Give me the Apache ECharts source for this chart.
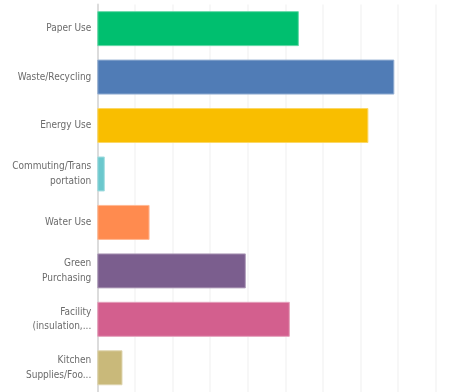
<!DOCTYPE html>
<html>
<head>
<meta charset="utf-8">
<script src="https://cdn.jsdelivr.net/npm/echarts@6/dist/echarts.min.js"></script>
<style>
  html, body { margin: 0; padding: 0; background: #fff; }
  #chart { width: 471px; height: 392px; }
</style>
</head>
<body>
<div id="chart"></div>
<script>
// categories top to bottom
const categories = [
  "Paper Use",
  "Waste/Recycling",
  "Energy Use",
  "Commuting/Trans\nportation",
  "Water Use",
  "Green\nPurchasing",
  "Facility\n(insulation,...",
  "Kitchen\nSupplies/Foo..."
];
// percent of respondents
const values = [53.6, 79.0, 72.1, 2.0, 13.9, 39.5, 51.2, 6.7];
const colors = ["#00bf6f", "#507cb6", "#f9be00", "#6bc8cd", "#ff8b4f", "#7b5e8e", "#d35f8e", "#c9b97a"];
const borders = ["#66d9a9", "#96b0d3", "#fbd866", "#a6dee1", "#ffb995", "#b09ebb", "#e59fbb", "#dfd5af"];

const chart = echarts.init(document.getElementById("chart"));
chart.setOption({
  animation: false,
  grid: {
    left: 97.3,
    right: 35.3,
    top: 4.4,
    bottom: -6,
    containLabel: false
  },
  xAxis: {
    type: "value",
    min: 0,
    max: 90,
    interval: 10,
    axisLabel: { show: false },
    axisLine: { show: false },
    axisTick: { show: false },
    splitLine: { lineStyle: { color: "#f4f4f4", width: 1.5 } }
  },
  yAxis: {
    type: "category",
    inverse: true,
    data: categories,
    axisTick: { show: false },
    axisLine: { show: true, lineStyle: { color: "#dcdcdc", width: 2 } },
    axisLabel: {
      color: "#6b6b6b",
      fontSize: 10,
      fontFamily: "'DejaVu Sans Condensed', 'Noto Sans', sans-serif",
      lineHeight: 14.5,
      margin: 6,
      align: "right"
    }
  },
  series: [
    {
      type: "bar",
      barWidth: 35,
      data: values.map((v, i) => ({
        value: v,
        itemStyle: { color: colors[i], borderColor: borders[i], borderWidth: 1 }
      }))
    }
  ]
});
</script>
</body>
</html>
